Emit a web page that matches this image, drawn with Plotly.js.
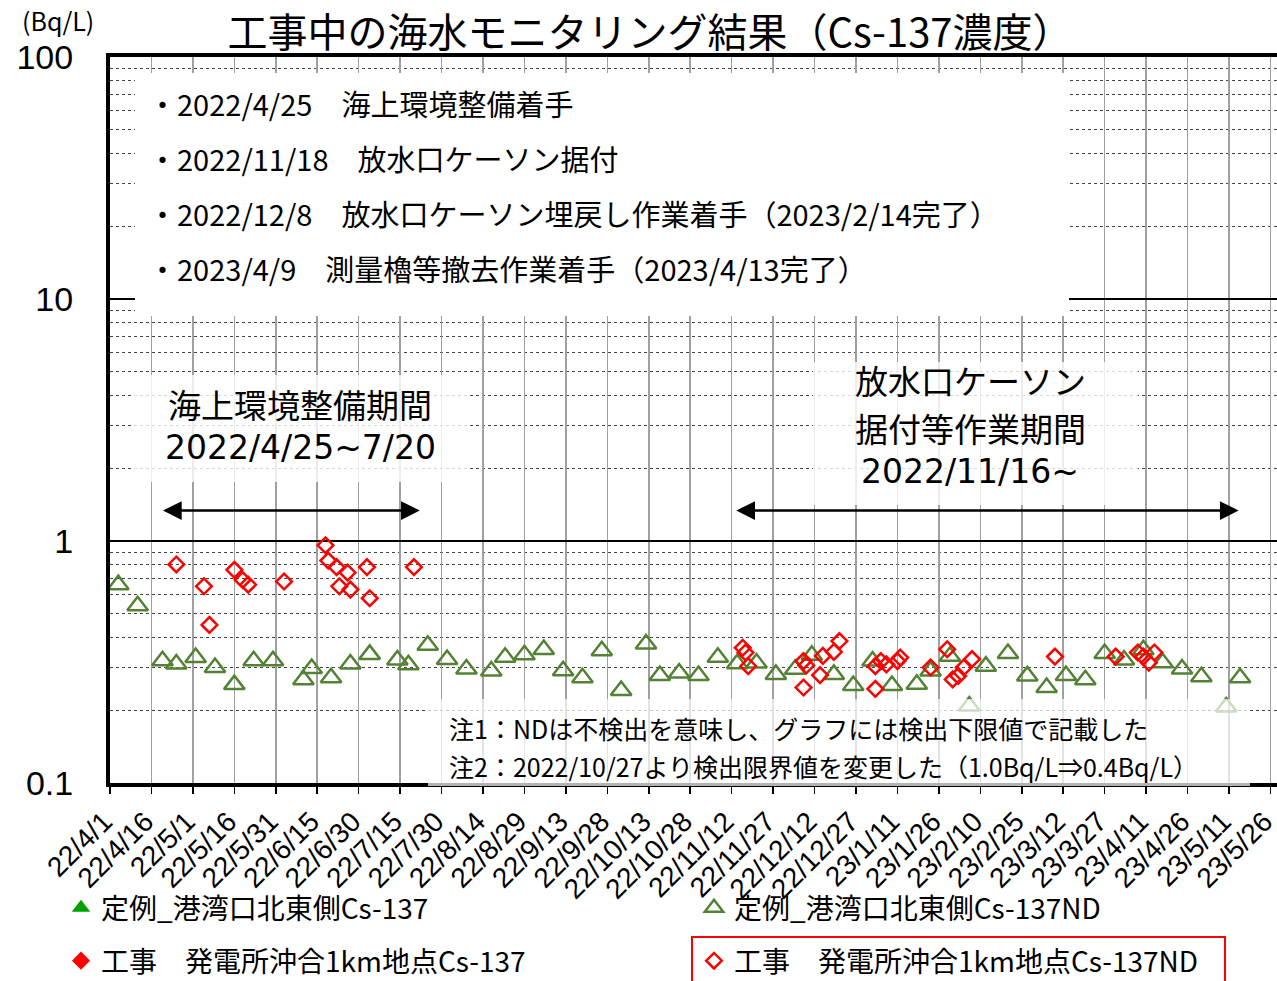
<!DOCTYPE html>
<html><head><meta charset="utf-8">
<script src="https://cdn.plot.ly/plotly-3.0.1.min.js"></script>
<style>html,body{margin:0;padding:0;background:#fff}#chart{width:1277px;height:981px}</style>
</head><body><div id="chart"></div><script>
const tickDates = ['2022-04-01','2022-04-16','2022-05-01','2022-05-16','2022-05-31','2022-06-15','2022-06-30','2022-07-15','2022-07-30','2022-08-14','2022-08-29','2022-09-13','2022-09-28','2022-10-13','2022-10-28','2022-11-12','2022-11-27','2022-12-12','2022-12-27','2023-01-11','2023-01-26','2023-02-10','2023-02-25','2023-03-12','2023-03-27','2023-04-11','2023-04-26','2023-05-11','2023-05-26'];
const tickLabels = ['22/4/1','22/4/16','22/5/1','22/5/16','22/5/31','22/6/15','22/6/30','22/7/15','22/7/30','22/8/14','22/8/29','22/9/13','22/9/28','22/10/13','22/10/28','22/11/12','22/11/27','22/12/12','22/12/27','23/1/11','23/1/26','23/2/10','23/2/25','23/3/12','23/3/27','23/4/11','23/4/26','23/5/11','23/5/26'];

const yTickVals = [0.1, 1, 10, 100];
const yTickText = ['0.1', '1', '10', '100'];

// 定例_港湾口北東側 Cs-137: detected values (none in this period)
const harborDetDates = [null];
const harborDet = [null];
// 定例_港湾口北東側 Cs-137 ND (plotted at detection limit)
const harborDates = ['2022-04-04','2022-04-11','2022-04-20','2022-04-25','2022-05-02','2022-05-09','2022-05-16','2022-05-23','2022-05-30','2022-06-10','2022-06-13','2022-06-20','2022-06-27','2022-07-04','2022-07-14','2022-07-18','2022-07-25','2022-08-01','2022-08-08','2022-08-17','2022-08-22','2022-08-29','2022-09-05','2022-09-12','2022-09-19','2022-09-26','2022-10-03','2022-10-12','2022-10-17','2022-10-24','2022-10-31','2022-11-07','2022-11-14','2022-11-21','2022-11-28','2022-12-05','2022-12-11','2022-12-19','2022-12-26','2023-01-02','2023-01-09','2023-01-18','2023-01-23','2023-01-30','2023-02-06','2023-02-12','2023-02-20','2023-02-27','2023-03-06','2023-03-13','2023-03-20','2023-03-27','2023-04-03','2023-04-10','2023-04-17','2023-04-24','2023-05-01','2023-05-10','2023-05-15'];
const harborND = [0.66,0.54,0.32,0.31,0.33,0.30,0.255,0.32,0.32,0.267,0.297,0.272,0.31,0.34,0.322,0.308,0.371,0.324,0.296,0.29,0.331,0.339,0.356,0.291,0.272,0.352,0.241,0.375,0.278,0.285,0.278,0.331,0.311,0.313,0.281,0.295,0.337,0.281,0.253,0.319,0.253,0.256,0.29,0.334,0.208,0.304,0.343,0.277,0.248,0.278,0.267,0.343,0.322,0.355,0.314,0.296,0.275,0.206,0.272];

// 工事 発電所沖合1km地点 Cs-137: detected values (none)
const offshoreDetDates = [null];
const offshoreDet = [null];
// 工事 発電所沖合1km地点 Cs-137 ND (plotted at detection limit)
const offshoreDates = ['2022-04-25','2022-05-05','2022-05-07','2022-05-16','2022-05-19','2022-05-21','2022-06-03','2022-06-18','2022-06-19','2022-06-22','2022-06-23','2022-06-26','2022-06-27','2022-07-03','2022-07-04','2022-07-20','2022-11-16','2022-11-17','2022-11-18','2022-12-08','2022-12-08','2022-12-09','2022-12-14','2022-12-15','2022-12-19','2022-12-21','2023-01-03','2023-01-03','2023-01-05','2023-01-07','2023-01-11','2023-01-12','2023-01-23','2023-01-29','2023-01-31','2023-02-02','2023-02-04','2023-02-07','2023-03-09','2023-03-31','2023-04-08','2023-04-10','2023-04-12','2023-04-14'];
const offshoreND = [0.80,0.65,0.45,0.76,0.69,0.66,0.68,0.96,0.83,0.78,0.65,0.74,0.63,0.78,0.58,0.78,0.362,0.346,0.304,0.248,0.319,0.306,0.279,0.335,0.348,0.386,0.304,0.245,0.319,0.309,0.319,0.330,0.300,0.357,0.268,0.277,0.300,0.325,0.333,0.333,0.346,0.333,0.314,0.346];

const seriesNames = ['定例_港湾口北東側Cs-137','定例_港湾口北東側Cs-137ND','工事　発電所沖合1km地点Cs-137','工事　発電所沖合1km地点Cs-137ND'];

const eventNotes = ['・2022/4/25　海上環境整備着手','・2022/11/18　放水口ケーソン据付','・2022/12/8　放水口ケーソン埋戻し作業着手（2023/2/14完了）','・2023/4/9　測量櫓等撤去作業着手（2023/4/13完了）'];
const periodLeft = ['海上環境整備期間','2022/4/25~7/20'];
const periodRight = ['放水口ケーソン','据付等作業期間','2022/11/16~'];
const periodStart = ['2022-04-19 15:00','2022-11-13 03:00'];
const periodEnd = ['2022-07-22 03:00','2023-05-14 12:00'];
const footNotes = ['注1：NDは不検出を意味し、グラフには検出下限値で記載した','注2：2022/10/27より検出限界値を変更した（1.0Bq/L⇒0.4Bq/L）'];

const W = 1277, H = 981, L = 110, R = 0, T = 57, B = 198;
const PW = W - L - R, PH = H - T - B;
const px = p => (p - L) / PW;
const py = p => (H - B - p) / PH;
const CJK = '"Noto Sans CJK JP", "Noto Sans", sans-serif';
const MIX = '"DejaVu Sans", "Noto Sans CJK JP", sans-serif';
const LAT = '"Liberation Sans", Arial, sans-serif';

const traces = [
  {type:'scatter', mode:'markers', x:harborDetDates, y:harborDet, name:seriesNames[0], legend:'legend',
   marker:{symbol:'triangle-up', size:16, color:'#00a000'}, hoverinfo:'skip'},
  {type:'scatter', mode:'markers', x:harborDates, y:harborND, name:seriesNames[1], legend:'legend',
   marker:{symbol:'triangle-up-open', size:18, color:'#548235', line:{width:2.5, color:'#548235'}}, hoverinfo:'skip'},
  {type:'scatter', mode:'markers', x:offshoreDetDates, y:offshoreDet, name:seriesNames[2], legend:'legend2',
   marker:{symbol:'diamond', size:14, color:'#ff0000'}, hoverinfo:'skip'},
  {type:'scatter', mode:'markers', x:offshoreDates, y:offshoreND, name:seriesNames[3], legend:'legend2',
   marker:{symbol:'diamond-open', size:12, color:'#ff0000', line:{width:2.5, color:'#ff0000'}}, hoverinfo:'skip'}
];

const txt = (x, y, t, size, fam, xa) => ({xref:'paper', yref:'paper', x:px(x), y:py(y), text:t, showarrow:false,
  xanchor:xa || 'center', yanchor:'middle', align:'center', font:{family:fam, size:size, color:'#000'}});

const annotations = [ txt(58, 20, '(Bq/L)', 25, CJK) ];
const bulletY = [103, 158, 213, 268];
eventNotes.forEach((t, i) => annotations.push(txt(146, bulletY[i], t, 29, CJK, 'left')));
annotations.push(txt(300, 404, periodLeft[0], 33, CJK));
annotations.push(txt(300, 447, periodLeft[1], 33, MIX));
annotations.push(txt(970, 380, periodRight[0], 33, CJK));
annotations.push(txt(970, 428, periodRight[1], 33, CJK));
annotations.push(txt(970, 471, periodRight[2], 33, MIX));
const noteY = [728, 766];
footNotes.forEach((t, i) => annotations.push(txt(447, noteY[i], t, 25, CJK, 'left')));
for (let i = 0; i < 2; i++) {
  annotations.push({xref:'x', yref:'paper', x:periodEnd[i], y:py(510.5), axref:'x', ax:periodStart[i], ayref:'pixel', ay:0,
    showarrow:true, text:'', arrowside:'end+start', arrowhead:2, startarrowhead:2, arrowsize:1.5, startarrowsize:1.5, arrowwidth:2.5, arrowcolor:'#000'});
}

const shapes = [
  {type:'rect', xref:'paper', yref:'paper', x0:px(135), x1:px(1069), y0:py(316), y1:py(73), fillcolor:'#ffffff', line:{width:0}, layer:'above'},
  {type:'rect', xref:'paper', yref:'paper', x0:px(133), x1:px(468), y0:py(482), y1:py(375), fillcolor:'rgba(255,255,255,0.8)', line:{width:0}, layer:'above'},
  {type:'rect', xref:'paper', yref:'paper', x0:px(813), x1:px(1138), y0:py(505), y1:py(362), fillcolor:'rgba(255,255,255,0.8)', line:{width:0}, layer:'above'},
  {type:'rect', xref:'paper', yref:'paper', x0:px(428), x1:px(1250), y0:py(786), y1:py(699), fillcolor:'rgba(255,255,255,0.7)', line:{width:0}, layer:'above'},
  {type:'rect', xref:'paper', yref:'paper', x0:px(692), x1:px(1225), y0:py(995), y1:py(937), fillcolor:'rgba(0,0,0,0)', line:{width:2, color:'#ff0000'}, layer:'above'}
];

const legendBase = {orientation:'h', xanchor:'left', yanchor:'middle', entrywidth:588, entrywidthmode:'pixels',
  font:{family:CJK, size:28, color:'#000'}, bgcolor:'rgba(0,0,0,0)', borderwidth:0, itemsizing:'trace', traceorder:'normal'};

const layout = {
  width:W, height:H, margin:{l:L, r:R, t:T, b:B, pad:0, autoexpand:false},
  paper_bgcolor:'#ffffff', plot_bgcolor:'#ffffff',
  font:{family:CJK, color:'#000'},
  showlegend:true,
  title:{text:'工事中の海水モニタリング結果（Cs-137濃度）', x:650/W, xref:'container', xanchor:'center', y:1 - 33/H, yref:'container', yanchor:'middle', font:{family:CJK, size:40, color:'#000'}},
  xaxis:{type:'date', range:['2022-04-01', '2023-05-28 09:00'], tickmode:'array', tickvals:tickDates, ticktext:tickLabels, tickangle:-45,
    tickfont:{family:LAT, size:28, color:'#000'}, ticks:'outside', ticklen:7, tickwidth:1.5, tickcolor:'#000', ticklabeloverflow:'allow', ticklabelshift:-6,
    showgrid:true, gridcolor:'#a0a0a0', gridwidth:1.5, showline:true, linecolor:'#000', linewidth:4, mirror:true, zeroline:false, fixedrange:true},
  yaxis:{type:'log', range:[-1, 2], tickmode:'array', tickvals:yTickVals, ticktext:yTickText,
    tickfont:{family:LAT, size:34, color:'#000'}, ticks:'', ticklabelstandoff:26,
    showgrid:true, gridcolor:'#000', gridwidth:2.5, showline:true, linecolor:'#000', linewidth:4, zeroline:false, fixedrange:true,
    minor:{dtick:'D1', showgrid:true, gridcolor:'#444', gridwidth:1, griddash:'dot', ticks:''}},
  legend:Object.assign({}, legendBase, {x:px(61), y:py(908)}),
  legend2:Object.assign({}, legendBase, {x:px(61), y:py(961)}),
  shapes:shapes,
  annotations:annotations
};

Plotly.newPlot('chart', traces, layout, {displayModeBar:false, staticPlot:true});
</script></body></html>
